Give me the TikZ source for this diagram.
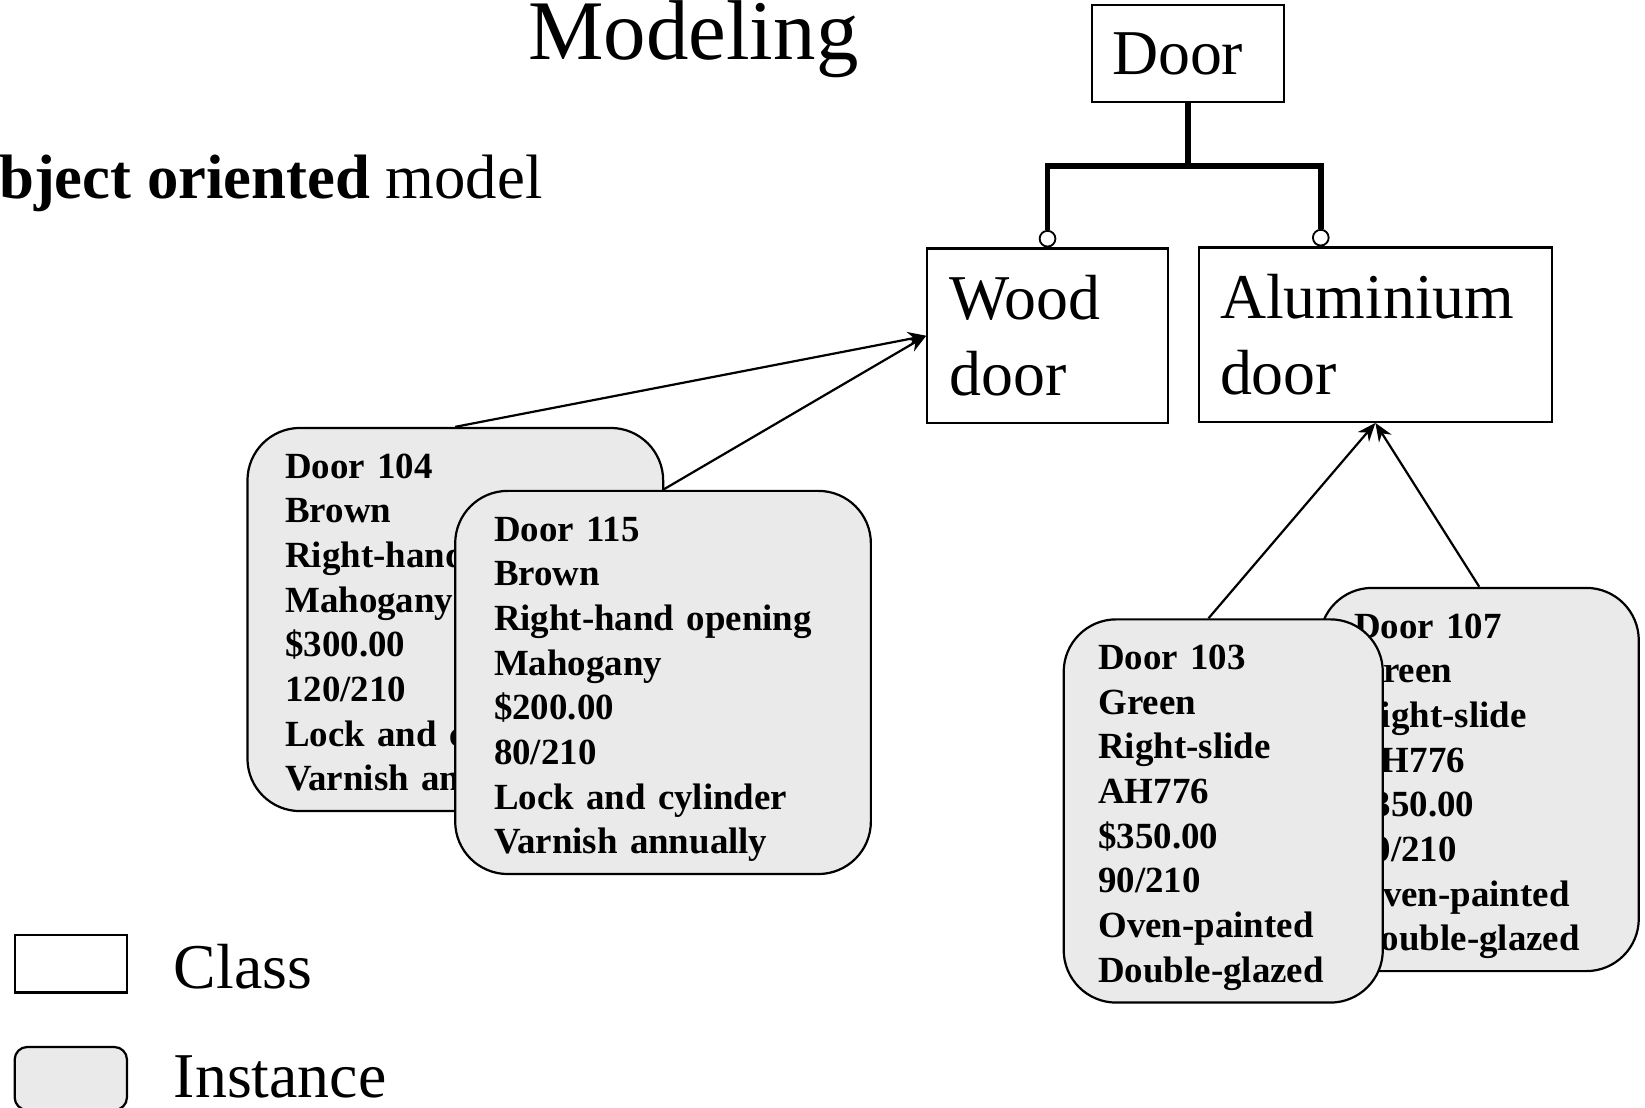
\documentclass[tikz,border=0pt]{standalone}
\usepackage{fontspec}
\setmainfont{Liberation Serif}
\usetikzlibrary{arrows.meta,positioning}
\definecolor{instgray}{RGB}{234,234,234}
\begin{document}
\begin{tikzpicture}[x=0.01cm,y=-0.01cm,
    klasse/.style={draw,line width=0.6pt,inner ysep=0pt,align=left,
      font=\fontsize{17.3}{20.5}\selectfont},
    instanz/.style={draw,line width=0.6pt,fill=instgray,rounded corners=0.5cm,
      minimum height=3.65cm,align=left,font=\fontsize{10}{12.1}\selectfont\bfseries,
      execute at begin node={\rule{0pt}{10.3pt}}},
    joint/.style={circle,draw,fill=white,line width=0.5pt,inner sep=0pt,minimum size=0.15cm},
    isa/.style={line width=1.6pt},
    inst/.style={line width=0.6pt,-{Stealth[length=5pt,width=4pt]}}]
    \useasboundingbox (0,0) rectangle (1568,1056);

    % Titel
    \node[anchor=base west,inner sep=0pt,font=\fontsize{23}{27}\selectfont] (title) at (503,57) {Modeling};
    \node[anchor=base west,inner sep=0pt,font=\fontsize{17}{20}\selectfont] (subtitle) at (-48,189) {\textbf{Object oriented} model};

    % Klassen
    \node[klasse,minimum width=1.83cm,minimum height=0.92cm,inner xsep=0.19cm,text width=1.45cm] (door) at (1132.5,51) {Door};
    \node[klasse,minimum width=2.29cm,minimum height=1.66cm,inner xsep=0.21cm,text width=1.87cm] (wood) at (998.5,320) {Wood\\door};
    \node[klasse,minimum width=3.36cm,minimum height=1.66cm,inner xsep=0.20cm,text width=2.96cm] (alu) at (1311,319) {Aluminium\\door};
    \node[joint,anchor=south] (wj) at (wood.north) {};
    \node[joint,anchor=south] (aj) at ([xshift=-0.52cm]alu.north) {};
    \coordinate (fork) at ([yshift=-0.6cm]door.south);
    \draw[isa] (door.south) -- (fork);
    \draw[isa] (fork) -| (wj.north);
    \draw[isa] (fork) -| (aj.north);

    % Instanzen Holz
    \node[instanz,minimum width=3.96cm,inner xsep=0.36cm,text width=3.24cm] (d104) at (434,590.5)
      {Door 104\\Brown\\Right-hand opening\\Mahogany\\\$300.00\\120/210\\Lock and cylinder\\Varnish annually};
    \node[instanz,minimum width=3.96cm,inner xsep=0.37cm,text width=3.22cm] (d115) at (632,650.5)
      {Door 115\\Brown\\Right-hand opening\\Mahogany\\\$200.00\\80/210\\Lock and cylinder\\Varnish annually};
    \draw[inst] (d104.north) -- (wood.west);
    \draw[inst] (d115.north) -- (wood.west);

    % Instanzen Aluminium
    \node[instanz,minimum width=3.04cm,inner xsep=0.33cm,text width=2.38cm] (d107) at (1410,743)
      {Door 107\\Green\\Right-slide\\AH776\\\$350.00\\90/210\\Oven-painted\\Double-glazed};
    \node[instanz,minimum width=3.04cm,inner xsep=0.33cm,text width=2.38cm] (d103) at (1166,773)
      {Door 103\\Green\\Right-slide\\AH776\\\$350.00\\90/210\\Oven-painted\\Double-glazed};
    \draw[inst] ([xshift=-0.14cm]d103.north) -- (alu.south);
    \draw[inst] (d107.north) -- (alu.south);

    % Legende
    \node[draw,line width=0.6pt,minimum width=1.07cm,minimum height=0.55cm,inner sep=0pt] (keyclass) at (67.5,918.5) {};
    \node[anchor=base west,inner sep=0pt,font=\fontsize{17.3}{20.5}\selectfont] (keyclasslbl) at (165,942) {Class};
    \node[draw,line width=0.6pt,fill=instgray,rounded corners=0.12cm,minimum width=1.07cm,minimum height=0.6cm,inner sep=0pt] (keyinst) at (67.5,1028) {};
    \node[anchor=base west,inner sep=0pt,font=\fontsize{17.3}{20.5}\selectfont] (keyinstlbl) at (165,1046) {Instance};
\end{tikzpicture}
\end{document}
